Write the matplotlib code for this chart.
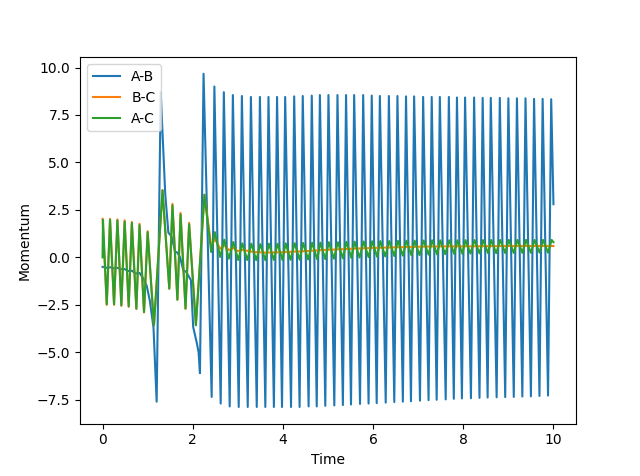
import matplotlib
matplotlib.use("Agg")
import matplotlib.pyplot as plt

# A-B momentum: early, irregular part
ab_early_t = [0.0, 0.08, 0.17, 0.25, 0.33, 0.41, 0.49, 0.57, 0.65, 0.73, 0.82, 0.9,
              0.98, 1.05, 1.13, 1.2, 1.29, 1.39, 1.46, 1.53, 1.61, 1.66, 1.72, 1.79,
              1.85, 1.9, 1.96, 2.01, 2.09, 2.13, 2.16]
ab_early_v = [-0.5, -0.55, -0.52, -0.58, -0.55, -0.62, -0.62, -0.72, -0.7, -0.85, -0.82, -1.1,
              -1.5, -2.3, -3.7, -7.6, 8.7, 3.35, 1.3, 1.1, 0.3, 0.25, 0.0, -0.68,
              -0.75, -0.95, -1.2, -3.67, -4.5, -5.0, -6.1]

# A-B: regular oscillation, peaks and troughs
ab_peak_t = [2.24, 2.48, 2.69, 2.89, 3.09, 3.29, 3.49, 3.68, 3.87, 4.05, 4.25, 4.44, 4.64, 4.82,
             5.01, 5.21, 5.40, 5.58, 5.78, 5.97, 6.15, 6.35, 6.54, 6.73, 6.91, 7.11, 7.30, 7.48,
             7.68, 7.86, 8.04, 8.24, 8.43, 8.61, 8.81, 9.00, 9.19, 9.38, 9.57, 9.76, 9.95]
ab_peak_v = [9.67, 9.0, 8.7, 8.55, 8.5, 8.45, 8.45, 8.45, 8.45, 8.45, 8.48, 8.5, 8.52, 8.55,
             8.55, 8.55, 8.55, 8.55, 8.55, 8.52, 8.5, 8.5, 8.5, 8.48, 8.48, 8.45, 8.45, 8.45,
             8.45, 8.42, 8.42, 8.42, 8.4, 8.4, 8.4, 8.38, 8.38, 8.38, 8.35, 8.35, 8.33]
ab_trough_t = [2.42, 2.62, 2.82, 3.02, 3.22, 3.42, 3.61, 3.80, 3.98, 4.18, 4.37, 4.57, 4.75, 4.94,
               5.14, 5.33, 5.51, 5.71, 5.90, 6.08, 6.28, 6.47, 6.66, 6.84, 7.04, 7.23, 7.41, 7.61,
               7.79, 7.97, 8.17, 8.36, 8.54, 8.74, 8.93, 9.12, 9.31, 9.50, 9.69, 9.88]
ab_trough_v = [-7.35, -7.7, -7.85, -7.88, -7.88, -7.88, -7.88, -7.88, -7.88, -7.88, -7.88, -7.85,
               -7.85, -7.82, -7.8, -7.78, -7.75, -7.72, -7.7, -7.68, -7.65, -7.62, -7.6, -7.58,
               -7.55, -7.52, -7.5, -7.48, -7.45, -7.43, -7.42, -7.4, -7.38, -7.37, -7.36, -7.35,
               -7.33, -7.32, -7.3, -7.28]
ab_end = (10.0, 2.8)

# A-C momentum: early part
ac_early_t = [0.0, 0.01, 0.093, 0.166, 0.255, 0.33, 0.417, 0.49, 0.58, 0.65, 0.75, 0.82, 0.92,
              1.0, 1.14, 1.33, 1.48, 1.55, 1.66, 1.73, 1.84, 1.92, 2.07, 2.26, 2.41, 2.49,
              2.61, 2.7, 2.8, 2.9, 3.01]
ac_early_v = [0.0, 1.98, -2.47, 1.98, -2.47, 1.95, -2.53, 1.89, -2.58, 1.81, -2.7, 1.7, -2.88,
              1.33, -3.58, 3.53, -1.65, 2.74, -2.23, 2.26, -2.7, 1.74, -3.58, 3.3, 0.28, 1.33,
              0.02, 0.93, -0.07, 0.81, -0.14]

# A-C: small oscillation later on
ac_peak_t = [3.10, 3.30, 3.50, 3.69, 3.88, 4.06, 4.26, 4.45, 4.65, 4.83, 5.02, 5.22, 5.41, 5.59,
             5.79, 5.98, 6.16, 6.36, 6.55, 6.74, 6.92, 7.12, 7.31, 7.49, 7.69, 7.87, 8.05, 8.25,
             8.44, 8.62, 8.82, 9.01, 9.20, 9.39, 9.58, 9.77, 9.96]
ac_peak_v = [0.74, 0.72, 0.70, 0.72, 0.72, 0.74, 0.75, 0.76, 0.77, 0.78, 0.8, 0.8, 0.82, 0.83,
             0.84, 0.85, 0.86, 0.86, 0.87, 0.88, 0.88, 0.89, 0.9, 0.9, 0.9, 0.9, 0.91, 0.91,
             0.91, 0.92, 0.92, 0.92, 0.92, 0.92, 0.92, 0.92, 0.92]
ac_trough_t = [3.21, 3.41, 3.61, 3.80, 3.99, 4.17, 4.37, 4.56, 4.76, 4.94, 5.13, 5.33, 5.52, 5.70,
               5.90, 6.09, 6.27, 6.47, 6.66, 6.85, 7.03, 7.23, 7.42, 7.60, 7.80, 7.98, 8.16, 8.36,
               8.55, 8.73, 8.93, 9.12, 9.31, 9.50, 9.69, 9.88]
ac_trough_v = [-0.14, -0.15, -0.15, -0.14, -0.14, -0.13, -0.12, -0.11, -0.1, -0.09, -0.07, -0.05,
               -0.03, -0.01, 0.01, 0.03, 0.05, 0.07, 0.09, 0.11, 0.12, 0.14, 0.15, 0.17, 0.18,
               0.19, 0.2, 0.21, 0.22, 0.22, 0.23, 0.23, 0.24, 0.24, 0.25, 0.25]
ac_end = (10.0, 0.8)

# B-C momentum
bc_t = [0.0, 0.093, 0.166, 0.255, 0.33, 0.417, 0.49, 0.58, 0.65, 0.75, 0.82, 0.92, 1.0, 1.14,
        1.33, 1.48, 1.55, 1.66, 1.73, 1.84, 1.92, 2.07, 2.26, 2.41, 2.49, 2.61, 2.7, 2.8, 2.9,
        3.0, 3.1, 3.3, 3.6, 4.0, 4.5, 5.0, 5.5, 6.0, 6.5, 7.0, 7.5, 8.0, 9.0, 10.0]
bc_v = [2.03, -2.5, 2.03, -2.5, 2.0, -2.55, 1.95, -2.6, 1.87, -2.72, 1.77, -2.9, 1.38, -3.58,
        3.55, -1.65, 2.82, -2.23, 2.34, -2.7, 1.82, -3.55, 3.3, 0.6, 0.98, 0.45, 0.65, 0.38, 0.5,
        0.33, 0.4, 0.3, 0.25, 0.27, 0.33, 0.4, 0.45, 0.5, 0.53, 0.56, 0.58, 0.58, 0.6, 0.6]


def interleave(t0, v0, pt, pv, tt, tv, end):
    t = list(t0)
    v = list(v0)
    for i in range(len(pt)):
        t.append(pt[i])
        v.append(pv[i])
        if i < len(tt):
            t.append(tt[i])
            v.append(tv[i])
    t.append(end[0])
    v.append(end[1])
    return t, v


ab_t, ab_v = interleave(ab_early_t, ab_early_v, ab_peak_t, ab_peak_v,
                        ab_trough_t, ab_trough_v, ab_end)
ac_t, ac_v = interleave(ac_early_t, ac_early_v, ac_peak_t, ac_peak_v,
                        ac_trough_t, ac_trough_v, ac_end)

fig, ax = plt.subplots(figsize=(6.4, 4.76), dpi=100)
ax.plot(ab_t, ab_v, label="A-B")
ax.plot(bc_t, bc_v, label="B-C")
ax.plot(ac_t, ac_v, label="A-C")
ax.set_xlabel("Time")
ax.set_ylabel("Momentum")
ax.legend(loc="upper left")
fig.savefig("out.png", dpi=100)
